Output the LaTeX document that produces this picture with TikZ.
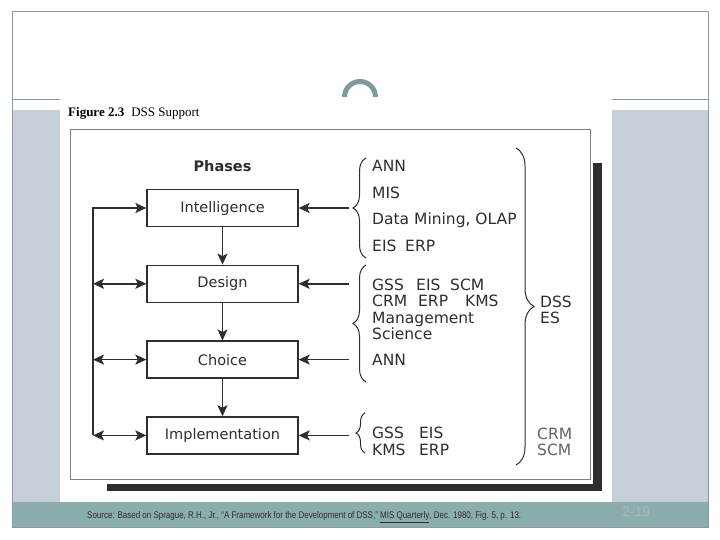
\documentclass[tikz,border=0pt]{standalone}
\usepackage{fontspec}
\usepackage{graphicx}
\setmainfont{DejaVu Sans}
\newfontfamily\titlefont{Liberation Serif}
\newfontfamily\notefont{Liberation Sans}
\usetikzlibrary{arrows.meta,decorations.pathreplacing,positioning}
\definecolor{slideline}{HTML}{8C9C9C}
\definecolor{slidefill}{HTML}{C5D0D6}
\definecolor{slideband}{HTML}{8BADAB}
\definecolor{arccol}{HTML}{7E9B9B}
\definecolor{ink}{HTML}{2E2E2E}
\definecolor{pgnum}{HTML}{A3B8B8}
\tikzset{
  phase/.style={draw=ink, line width=1.3pt, fill=white, minimum width=151pt,
    minimum height=37pt, inner sep=0pt, text=ink, font=\fontsize{14.5}{17}\selectfont},
  flow/.style={draw=ink, line width=1.5pt, -{Stealth[length=11pt,width=10pt,inset=2.5pt]}},
  twoway/.style={draw=ink, line width=1.5pt,
    {Stealth[length=11pt,width=10pt,inset=2.5pt]}-{Stealth[length=11pt,width=10pt,inset=2.5pt]}},
  tool/.style={anchor=base west, inner sep=0pt, text=ink, font=\fontsize{15.5}{17}\selectfont},
  curly/.style={draw=ink, line width=1pt, decorate, decoration={brace, amplitude=#1}},
}
\begin{document}
\begin{tikzpicture}[x=1pt, y=-1pt]
  \useasboundingbox (0,0) rectangle (720,540);
  % 1. slide background
  \fill[white] (0,0) rectangle (720,540);
  \fill[slidefill] (12,110) rectangle (708,502);
  \fill[slideband] (12,502) rectangle (708,527);
  \draw[slideline, line width=1pt] (12,100) -- (60,100);
  \draw[slideline, line width=1pt] (612,100) -- (708,100);
  \draw[slideline, line width=1pt] (12,12) rectangle (708,527);
  \fill[white] (60,97) rectangle (612,502);
  \draw[arccol, line width=5pt] (344.5,97) arc[start angle=180, end angle=0, radius=15.5pt];

  % 2. figure title, frame and shadow
  \node[anchor=base west, inner sep=0pt] (title) at (68,117)
    {\titlefont\fontsize{13}{15}\selectfont\bfseries Figure 2.3\hspace{7pt}\mdseries DSS Support};
  \fill[ink] (593,163) rectangle (602,491);
  \fill[ink] (107,484) rectangle (602,491);
  \draw[gray, line width=1pt] (70,130) rectangle (590,479);

  % 3. phases
  \node[font=\bfseries\fontsize{14.5}{17}\selectfont, text=ink] (phs) at (222.5,166) {Phases};
  \node[phase] (int) at (222.5,208) {Intelligence};
  \node[phase, below=37.5pt of int] (des) {Design};
  \node[phase, below=37.5pt of des] (cho) {Choice};
  \node[phase, below=37.5pt of cho] (imp) {Implementation};
  \draw[flow] (int) -- (des);
  \draw[flow] (des) -- (cho);
  \draw[flow] (cho) -- (imp);

  % 4. feedback on the left
  \coordinate (fbtop) at (93,208);
  \coordinate (fbbot) at (fbtop |- imp.west);
  \draw[flow] (fbbot) -- (fbtop) -- (int.west);
  \draw[twoway] (fbtop |- des.west) -- (des.west);
  \draw[twoway] (fbtop |- cho.west) -- (cho.west);
  \draw[twoway] (fbbot) -- (imp.west);

  % 5. support tools
  \coordinate (toolx) at (349,0);
  \draw[flow] (toolx |- int.east) -- (int.east);
  \draw[flow] (toolx |- des.east) -- (des.east);
  \draw[flow] (toolx |- cho.east) -- (cho.east);
  \draw[flow] (toolx |- imp.east) -- (imp.east);
  \draw[curly=13pt] (366,258) -- (366,158);
  \draw[curly=13pt] (366,382) -- (366,265);
  \draw[curly=9pt] (365,453) -- (365,413);
  \draw[curly=18pt] (516,148) -- (516,465);

  \node[tool] (t1) at (372,172) {ANN};
  \node[tool] (t2) at (372,199) {MIS};
  \node[tool] (t3) at (372,225) {Data Mining, OLAP};
  \node[tool] (t4) at (372,251.5) {\makebox[33pt][l]{EIS}ERP};
  \node[tool] (t5) at (372,290) {\makebox[44pt][l]{GSS}\makebox[34pt][l]{EIS}SCM};
  \node[tool] (t6) at (372,306.5) {\makebox[46pt][l]{CRM}\makebox[47pt][l]{ERP}KMS};
  \node[tool] (t7) at (372,323) {Management};
  \node[tool] (t8) at (372,339.5) {Science};
  \node[tool] (t9) at (372,365.5) {ANN};
  \node[tool] (t10) at (372,438.5) {\makebox[47pt][l]{GSS}EIS};
  \node[tool] (t11) at (372,455) {\makebox[47pt][l]{KMS}ERP};
  \node[tool] (dss) at (540,307.5) {DSS};
  \node[tool] (es) at (540,323.5) {ES};
  \node[tool, text=ink!75] (crm) at (537,439) {CRM};
  \node[tool, text=ink!75] (scm) at (537,455) {SCM};

  % 6. source and page number
  \node[anchor=west, inner sep=0pt, text=ink] (src) at (87,517.5)
    {\resizebox{434pt}{7pt}{\notefont\fontsize{7}{8}\selectfont Source: Based on Sprague, R.H., Jr., “A Framework for the Development of DSS,” \underline{MIS Quarterly}, Dec. 1980, Fig. 5, p. 13.}};
  \node[anchor=west, inner sep=0pt, text=pgnum, font=\notefont\fontsize{14}{16}\selectfont] (pg) at (622,512) {2-19};
\end{tikzpicture}
\end{document}
